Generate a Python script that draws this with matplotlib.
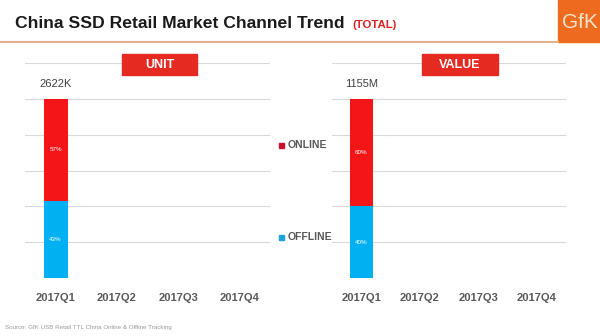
import matplotlib.pyplot as plt
from matplotlib.patches import Rectangle
from matplotlib.lines import Line2D

# ======================================================
# Data
# ======================================================
quarters = ["2017Q1", "2017Q2", "2017Q3", "2017Q4"]
unit_online = [57]
unit_offline = [43]
unit_total = ["2622K"]
value_online = [60]
value_offline = [40]
value_total = ["1155M"]

RED = "#F41519"
BLUE = "#00B0F0"
BOX_RED = "#E52A22"
GRID = "#D9D9D9"
TXT = "#404040"

W, H = 600, 336
fig = plt.figure(figsize=(6, 3.36), dpi=100)
plt.rcParams['font.family'] = ['Liberation Sans', 'DejaVu Sans']


def px_axes(x0, y0, x1, y1):
    # pixel box (top-left origin) -> figure axes
    return fig.add_axes([x0 / W, 1 - y1 / H, (x1 - x0) / W, (y1 - y0) / H])


def draw_panel(ax, online, offline, total, title, tx0, tx1):
    idx = list(range(len(online)))
    ax.bar(idx, offline, width=0.39, color=BLUE, zorder=3)
    ax.bar(idx, online, width=0.39, bottom=offline, color=RED, zorder=3)
    for i in idx:
        ax.text(i, offline[i] / 2, f"{offline[i]}%", color="white",
                fontsize=4.5, ha="center", va="center", zorder=4)
        ax.text(i, offline[i] + online[i] / 2, f"{online[i]}%", color="white",
                fontsize=4.5, ha="center", va="center", zorder=4)
        ax.annotate(total[i], (i, offline[i] + online[i]), xytext=(0, 15),
                    textcoords="offset pixels", ha="center", va="center",
                    fontsize=8, color=TXT)
    ax.set_xlim(-0.5, 3.5)
    ax.set_ylim(0, 120)
    ax.set_yticks(range(0, 121, 20))
    ax.yaxis.grid(True, color=GRID, lw=0.8, zorder=0)
    ax.set_xticks(range(len(quarters)))
    ax.set_xticklabels(quarters, fontsize=8, fontweight="bold", color="#595959")
    ax.tick_params(axis="x", length=0, pad=11)
    ax.tick_params(axis="y", length=0, labelleft=False)
    for s in ax.spines.values():
        s.set_visible(False)
    # red title box
    fig.add_artist(Rectangle((tx0 / W, 1 - 75 / H), (tx1 - tx0) / W, 21 / H,
                             transform=fig.transFigure, color=BOX_RED, zorder=5))
    fig.text((tx0 + tx1) / 2 / W, 1 - 65 / H, title, color="white",
             fontsize=9, fontweight="bold", ha="center", va="center", zorder=6)


ax1 = px_axes(25, 63, 270, 278)
draw_panel(ax1, unit_online, unit_offline, unit_total, "UNIT", 122, 197)
ax2 = px_axes(332, 63, 566, 278)
draw_panel(ax2, value_online, value_offline, value_total, "VALUE", 422, 498)

# legend between panels
for lab, col, y in [("ONLINE", "#C8102E", 145), ("OFFLINE", "#1AA3D9", 237)]:
    fig.add_artist(Rectangle((279 / W, 1 - (y + 2.5) / H), 5 / W, 5 / H,
                             transform=fig.transFigure, color=col))
    fig.text(288 / W, 1 - y / H, lab, fontsize=7.5, fontweight="bold",
             color="#595959", ha="left", va="center")

# header
fig.text(15 / W, 1 - 28 / H, "China SSD Retail Market Channel Trend",
         fontsize=12.6, fontweight="bold", color="#1a1a1a", ha="left", va="baseline")
fig.text(352 / W, 1 - 28 / H, "(TOTAL)", fontsize=8.2, fontweight="bold",
         color="#E02020", ha="left", va="baseline")
fig.add_artist(Line2D([0, 558 / W], [1 - 42 / H, 1 - 42 / H],
                      transform=fig.transFigure, color="#E0B48A", lw=1.5))
fig.add_artist(Rectangle((558 / W, 1 - 42 / H), 42 / W, 42 / H,
                         transform=fig.transFigure, color="#EE6A1E"))
fig.text(580 / W, 1 - 22 / H, "GfK", fontsize=15, color="#FBE3C8",
         ha="center", va="center")

fig.text(5 / W, 1 - 327 / H,
         "Source: GfK USB Retail TTL China Online & Offline Tracking",
         fontsize=4.5, color="#9a9a9a", ha="left", va="center")

plt.savefig("out.png", dpi=100)
plt.close()
